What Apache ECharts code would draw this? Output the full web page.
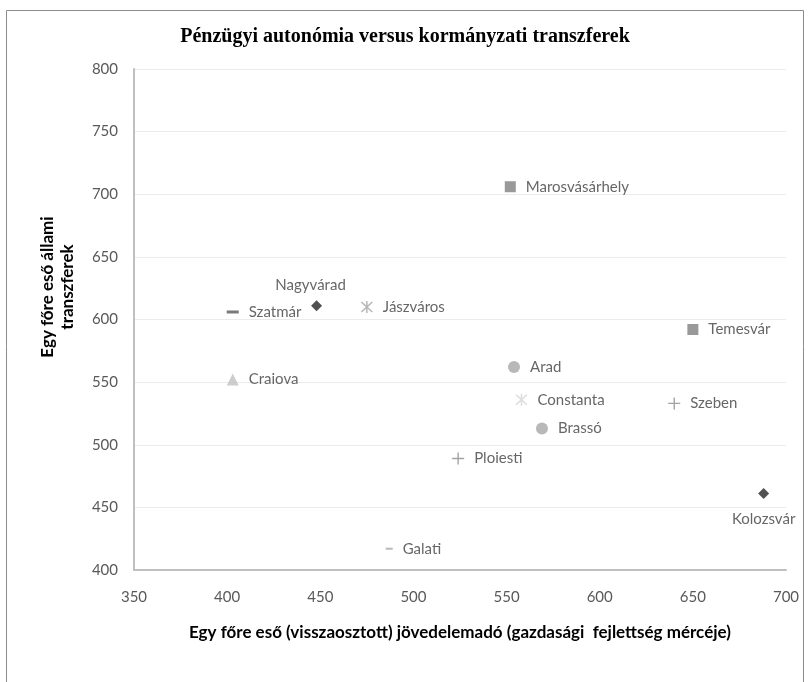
<!DOCTYPE html>
<html>
<head>
<meta charset="utf-8">
<title>Pénzügyi autonómia versus kormányzati transzferek</title>
<script src="https://cdn.jsdelivr.net/npm/echarts@6/dist/echarts.min.js"></script>
<style>
  html, body { margin: 0; padding: 0; background: #fff; }
  #chart { width: 810px; height: 682px; }
</style>
</head>
<body>
<div id="chart"></div>
<script>
// adatok
const cities = ['Nagyvárad', 'Szatmár', 'Jászváros', 'Craiova', 'Marosvásárhely', 'Temesvár',
  'Arad', 'Constanta', 'Brassó', 'Szeben', 'Ploiesti', 'Galati', 'Kolozsvár']
const incomeTax = [448, 403, 475, 403, 552, 650, 554, 558, 569, 640, 524, 487, 688]
const transfers = [611, 606, 610, 552, 706, 592, 562, 536, 513, 533, 489, 417, 461]

const xTicks = { min: 350, max: 700, step: 50 }
const yTicks = { min: 400, max: 800, step: 50 }

// jelölők
const PLUS = 'path://M0,5.3 H12 V6.7 H0 Z M5.3,0 H6.7 V12 H5.3 Z'
const STAR = 'path://M5.3,0 H6.7 V12 H5.3 Z M0.5,1.5 L1.5,0.5 L11.5,10.5 L10.5,11.5 Z M10.5,0.5 L11.5,1.5 L1.5,11.5 L0.5,10.5 Z'

const markerStyle = {
  'Nagyvárad': { symbol: 'diamond', size: 11, color: '#262626', pos: 'top' },
  'Szatmár': { symbol: 'rect', size: [12, 3], color: '#595959' },
  'Jászváros': { symbol: STAR, size: 12, color: '#a6a6a6' },
  'Craiova': { symbol: 'triangle', size: 12, color: '#c0c0c0' },
  'Marosvásárhely': { symbol: 'rect', size: 11, color: '#7f7f7f' },
  'Temesvár': { symbol: 'rect', size: 11, color: '#7f7f7f' },
  'Arad': { symbol: 'circle', size: 12, color: '#a6a6a6' },
  'Constanta': { symbol: STAR, size: 12, color: '#d4d4d4' },
  'Brassó': { symbol: 'circle', size: 12, color: '#a6a6a6' },
  'Szeben': { symbol: PLUS, size: 12, color: '#8c8c8c' },
  'Ploiesti': { symbol: PLUS, size: 12, color: '#8c8c8c' },
  'Galati': { symbol: 'rect', size: [7, 2], color: '#a6a6a6' },
  'Kolozsvár': { symbol: 'diamond', size: 11, color: '#262626', pos: 'bottom' }
}

const labelFont = 'Lato, "Open Sans", sans-serif'

const points = cities.map((name, i) => {
  const s = markerStyle[name]
  const label = { show: true, formatter: name, position: 'right', distance: 10 }
  if (s.pos === 'top') {
    label.position = 'top'
    label.distance = 8
    label.offset = [-6, 0]
  } else if (s.pos === 'bottom') {
    label.position = 'bottom'
    label.distance = 13
  }
  return {
    name: name,
    value: [incomeTax[i], transfers[i]],
    symbol: s.symbol,
    symbolSize: s.size,
    itemStyle: { color: s.color },
    label: label
  }
})

const chart = echarts.init(document.getElementById('chart'), null, { renderer: 'canvas' })

const option = {
  backgroundColor: '#fff',
  animation: false,
  title: {
    text: 'Pénzügyi autonómia versus kormányzati transzferek',
    left: 'center',
    top: 22,
    textStyle: {
      fontFamily: '"Liberation Serif", serif',
      fontWeight: 'bold',
      fontSize: 20,
      color: '#000'
    }
  },
  graphic: [
    {
      type: 'rect',
      shape: { x: 6.5, y: 10.5, width: 797, height: 700 },
      style: { fill: 'none', stroke: '#8c8c8c', lineWidth: 1 },
      silent: true
    },
    {
      type: 'text',
      x: 58,
      y: 287,
      rotation: Math.PI / 2,
      style: {
        text: 'Egy főre eső állami\ntranszferek',
        font: 'bold 17px Lato, "Open Sans", sans-serif',
        fill: '#000',
        align: 'center',
        verticalAlign: 'middle',
        lineHeight: 20
      }
    }
  ],
  grid: { left: 134, right: 24, top: 69, bottom: 112 },
  xAxis: {
    type: 'value',
    min: xTicks.min,
    max: xTicks.max,
    interval: xTicks.step,
    name: 'Egy főre eső (visszaosztott) jövedelemadó (gazdasági  fejlettség mércéje)',
    nameLocation: 'middle',
    nameGap: 54,
    nameTextStyle: { fontFamily: labelFont, fontWeight: 'bold', fontSize: 17, color: '#000' },
    axisLine: { show: true, lineStyle: { color: '#bfbfbf', width: 2 } },
    axisTick: { show: false },
    splitLine: { show: false },
    axisLabel: { margin: 20, fontFamily: labelFont, fontSize: 15, color: '#595959' }
  },
  yAxis: {
    type: 'value',
    min: yTicks.min,
    max: yTicks.max,
    interval: yTicks.step,
    axisLine: { show: true, lineStyle: { color: '#bfbfbf', width: 2 } },
    axisTick: { show: false },
    splitLine: { show: true, lineStyle: { color: '#ebebeb', width: 1 } },
    axisLabel: { margin: 16, fontFamily: labelFont, fontSize: 15, color: '#595959' }
  },
  series: [
    {
      type: 'scatter',
      data: points,
      label: { fontFamily: labelFont, fontSize: 15, color: '#404040' },
      emphasis: { disabled: true }
    }
  ]
}

chart.setOption(option)
</script>
</body>
</html>
